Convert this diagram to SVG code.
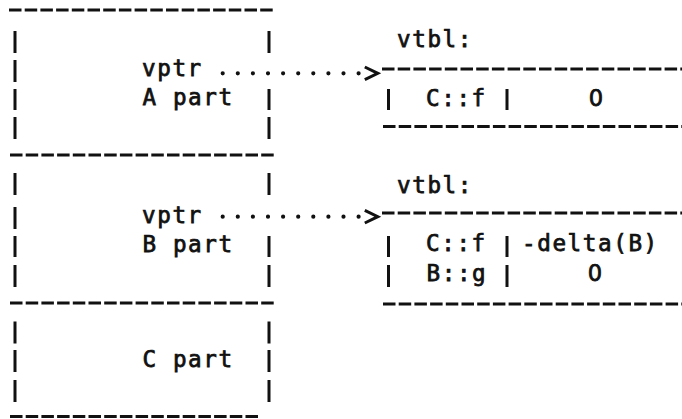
<svg xmlns="http://www.w3.org/2000/svg" width="682" height="419" viewBox="0 0 682 419">
<style>
.dash{stroke:#111;stroke-width:3;stroke-dasharray:12.5 3.2;fill:none}
.bar{fill:#111}
.t{font-family:"DejaVu Sans Mono",monospace;font-size:22.6px;letter-spacing:1.6px;fill:#111;stroke:#111;stroke-width:0.75px}
.z{font-family:"DejaVu Sans",sans-serif;letter-spacing:0}
.dots{stroke:#111;stroke-width:4.2;stroke-linecap:round;stroke-dasharray:0 15.1;fill:none}
</style>
<defs>
<marker id="chev" markerUnits="userSpaceOnUse" markerWidth="24" markerHeight="18" viewBox="0 -9 24 18" refX="0" refY="0" orient="auto" overflow="visible">
<path d="M5.5 -6.3 L18.5 0 L5.5 6.3" fill="none" stroke="#111" stroke-width="3"/>
</marker>
</defs>
<rect width="682" height="419" fill="#fff"/>
<g id="box-a">
<line class="dash" x1="9" y1="10" x2="275" y2="10"/>
<rect class="bar" x="13.5" y="31" width="3" height="22"/>
<rect class="bar" x="267.5" y="31" width="3" height="22"/>
<rect class="bar" x="13.5" y="60" width="3" height="22"/>
<rect class="bar" x="13.5" y="89" width="3" height="21"/>
<rect class="bar" x="267.5" y="89" width="3" height="21"/>
<rect class="bar" x="13.5" y="117" width="3" height="22"/>
<rect class="bar" x="267.5" y="117" width="3" height="22"/>
<text class="t" x="142" y="76">vptr</text>
<text class="t" x="142.5" y="105">A part</text>
</g>
<g id="box-b">
<line class="dash" x1="10" y1="155" x2="275" y2="155"/>
<rect class="bar" x="13.5" y="173" width="3" height="22"/>
<rect class="bar" x="267.5" y="173" width="3" height="22"/>
<rect class="bar" x="13.5" y="207" width="3" height="22"/>
<rect class="bar" x="13.5" y="236" width="3" height="21"/>
<rect class="bar" x="267.5" y="236" width="3" height="21"/>
<rect class="bar" x="13.5" y="265" width="3" height="22"/>
<rect class="bar" x="267.5" y="265" width="3" height="22"/>
<text class="t" x="142" y="223">vptr</text>
<text class="t" x="142.5" y="251.5">B part</text>
</g>
<g id="box-c">
<line class="dash" x1="10" y1="303" x2="275" y2="303"/>
<rect class="bar" x="13.5" y="321.5" width="3" height="22"/>
<rect class="bar" x="267.5" y="321.5" width="3" height="22"/>
<rect class="bar" x="13.5" y="350" width="3" height="22"/>
<rect class="bar" x="267.5" y="350" width="3" height="22"/>
<rect class="bar" x="13.5" y="380" width="3" height="22"/>
<rect class="bar" x="267.5" y="380" width="3" height="22"/>
<text class="t" x="142.5" y="367">C part</text>
<line class="dash" x1="10" y1="416.5" x2="259" y2="416.5"/>
</g>
<g id="vtbl-a">
<text class="t" x="397" y="47">vtbl:</text>
<line class="dash" x1="382" y1="69" x2="690" y2="69"/>
<rect class="bar" x="387" y="89" width="3" height="21"/>
<text class="t" x="426" y="105.5">C::f</text>
<rect class="bar" x="505.5" y="89" width="3" height="21"/>
<text class="t z" x="596" y="105.5" text-anchor="middle">0</text>
<line class="dash" x1="383" y1="126.5" x2="690" y2="126.5"/>
</g>
<g id="vtbl-b">
<text class="t" x="397" y="193">vtbl:</text>
<line class="dash" x1="382" y1="213" x2="690" y2="213"/>
<rect class="bar" x="387" y="236" width="3" height="21"/>
<text class="t" x="426" y="251">C::f</text>
<rect class="bar" x="505.5" y="236" width="3" height="21"/>
<text class="t" x="522" y="251">-delta(B)</text>
<rect class="bar" x="387" y="265" width="3" height="22"/>
<text class="t" x="426.5" y="281">B::g</text>
<rect class="bar" x="505.5" y="265" width="3" height="22"/>
<text class="t z" x="595" y="281" text-anchor="middle">0</text>
<line class="dash" x1="383" y1="304" x2="690" y2="304"/>
</g>
<g id="connectors">
<path class="dots" d="M222.7 73.3 L359.3 73.3" marker-end="url(#chev)"/>
<path class="dots" d="M222.7 216.7 L359.3 216.7" marker-end="url(#chev)"/>
</g>
</svg>
